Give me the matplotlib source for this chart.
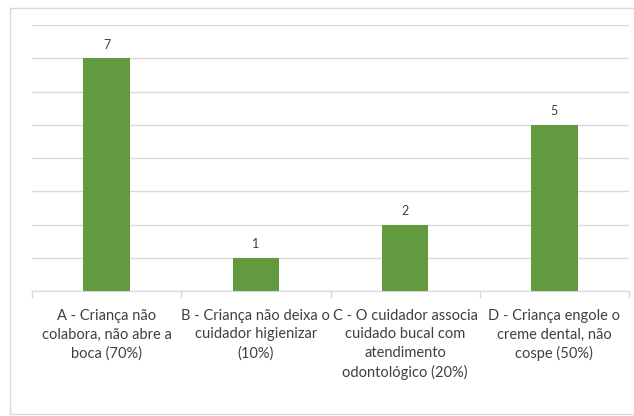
import matplotlib.pyplot as plt
from matplotlib.patches import Rectangle

categories = [
    "A - Criança não\ncolabora, não abre a\nboca (70%)",
    "B - Criança não deixa o\ncuidador higienizar\n(10%)",
    "C - O cuidador associa\ncuidado bucal com\natendimento\nodontológico (20%)",
    "D - Criança engole o\ncreme dental, não\ncospe (50%)",
]
counts = [7, 1, 2, 5]

bar_color = "#629B3F"
grid_color = "#D9D9D9"
text_color = "#404040"

plt.rcParams['font.family'] = ['Lato', 'DejaVu Sans']

fig = plt.figure(figsize=(6.34, 4.16), dpi=100)
ax = fig.add_axes([32 / 634, 1 - 291 / 416, (629 - 32) / 634, (291 - 25) / 416])

x = list(range(len(categories)))
bars = ax.bar(x, counts, width=0.313, color=bar_color, zorder=3)
for b, v in zip(bars, counts):
    ax.text(b.get_x() + b.get_width() / 2, v + 0.22, str(v), ha='center', va='bottom',
            fontsize=9, color=text_color)

ax.set_xlim(-0.5, len(categories) - 0.5)
ax.set_ylim(0, 8)
ax.set_yticks(range(0, 9))
ax.yaxis.grid(True, color=grid_color, lw=1, zorder=0)
ax.tick_params(axis='y', left=False, labelleft=False)

# category labels under the axis, separator ticks between categories
ax.set_xticks(x)
ax.set_xticklabels(categories, fontsize=10.5, color=text_color, linespacing=1.4)
ax.set_xticks([i - 0.5 for i in range(len(categories) + 1)], minor=True)
ax.tick_params(axis='x', which='major', length=0, pad=13)
ax.tick_params(axis='x', which='minor', length=5, color=grid_color, width=1)

for side in ['top', 'right', 'left']:
    ax.spines[side].set_visible(False)
ax.spines['bottom'].set_color(grid_color)

# chart area border
fig.patches.append(Rectangle((10 / 634, 2 / 416), 1, 1 - 10 / 416, transform=fig.transFigure,
                             fill=False, edgecolor=grid_color, lw=1))

plt.savefig('out.png', dpi=100)
